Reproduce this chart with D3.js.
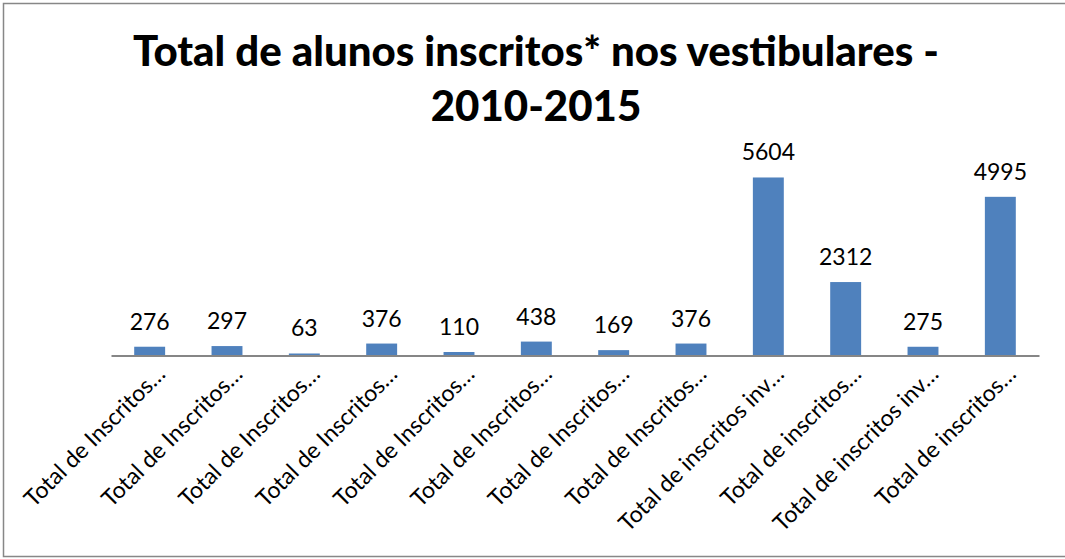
<!DOCTYPE html>
<html>
<head>
<meta charset="utf-8">
<script src="https://cdn.jsdelivr.net/npm/d3@7"></script>
<style>
  html, body { margin: 0; padding: 0; background: #fff; }
  text { font-family: Lato, "Open Sans", sans-serif; fill: #000; }
</style>
</head>
<body>
<svg id="chart" width="1065" height="559"></svg>
<script>
// data
const categories = [
  "Total de Inscritos…", "Total de Inscritos…", "Total de Inscritos…", "Total de Inscritos…",
  "Total de Inscritos…", "Total de Inscritos…", "Total de Inscritos…", "Total de Inscritos…",
  "Total de inscritos inv…", "Total de inscritos…", "Total de inscritos inv…", "Total de inscritos…"
]
const values = [276, 297, 63, 376, 110, 438, 169, 376, 5604, 2312, 275, 4995]
const titleLines = ["Total de alunos inscritos* nos vestibulares -", "2010-2015"]

const svg = d3.select("#chart")
const W = 1065, H = 559

// outer frame (open on the right, like the screenshot)
svg.append("rect")
  .attr("x", 3.5).attr("y", 3.5).attr("width", W + 10).attr("height", H - 6)
  .attr("fill", "#fff").attr("stroke", "#878787").attr("stroke-width", 1.5)

// title
svg.append("g").selectAll("text").data(titleLines).join("text")
  .attr("x", 536).attr("y", (d, i) => 66 + i * 55)
  .attr("text-anchor", "middle")
  .style("font-weight", 900).style("font-size", "42px")
  .text(d => d)

const x = d3.scaleBand().domain(d3.range(categories.length)).range([111, 1039]).paddingInner(0.6).paddingOuter(0.3)
const y = d3.scaleLinear().domain([0, 6000]).range([355.5, 164.9])

// bars
svg.append("g").selectAll("rect").data(values).join("rect")
  .attr("x", (d, i) => x(i))
  .attr("width", x.bandwidth())
  .attr("y", d => y(d))
  .attr("height", d => y(0) - y(d))
  .attr("fill", "#4F81BD")

// value labels
svg.append("g").selectAll("text").data(values).join("text")
  .attr("x", (d, i) => x(i) + x.bandwidth() / 2)
  .attr("y", d => y(d) - 17)
  .attr("text-anchor", "middle")
  .style("font-size", "23px")
  .text(d => d)

// category axis
const xAxis = d3.axisBottom(x).tickSize(0).tickFormat(i => categories[i])
const ax = svg.append("g").attr("transform", `translate(0,${y(0)})`).call(xAxis)
ax.select(".domain").attr("stroke", "#868686").attr("stroke-width", 2)
ax.selectAll(".tick text")
  .attr("y", 0).attr("dy", 0)
  .attr("transform", "translate(17,20) rotate(-45)")
  .attr("text-anchor", "end")
  .style("font-family", "Lato, 'Open Sans', sans-serif")
  .style("font-size", "23px")
  .attr("fill", "#000")
</script>
</body>
</html>
